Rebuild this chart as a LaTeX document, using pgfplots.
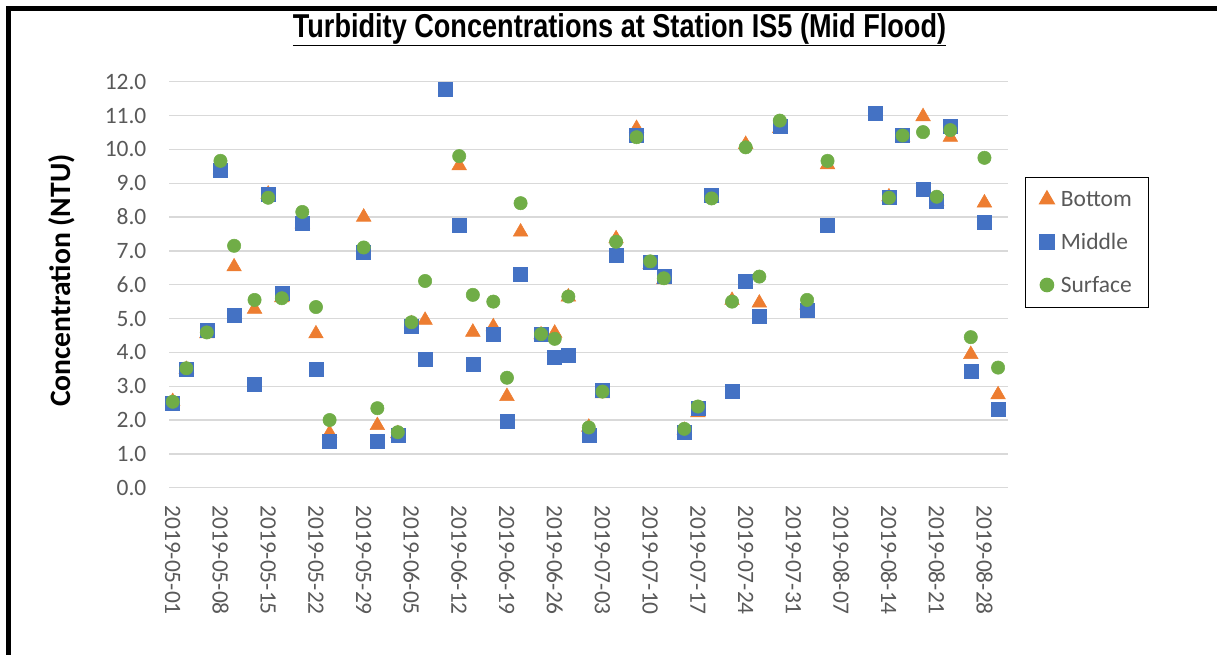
\documentclass[border=0pt]{standalone}
\usepackage{fontspec}
\setmainfont{Carlito}
\newfontfamily\titlefont[FakeStretch=0.82]{Liberation Sans}
\usepackage{pgfplots}
\usepackage{pgfplotstable}
\pgfplotsset{compat=1.18}
\definecolor{cOrange}{HTML}{ED7D31}
\definecolor{cBlue}{HTML}{4472C4}
\definecolor{cGreen}{HTML}{70AD47}
\definecolor{cGrid}{HTML}{D9D9D9}
\definecolor{cText}{HTML}{595959}

% x = days after 2019-05-01
\pgfplotstableread{
d v
0 2.55
2 3.50
5 4.55
7 9.40
9 6.53
12 5.28
14 8.68
16 5.62
19 7.80
21 4.55
23 1.61
28 8.00
30 1.84
33 1.60
35 4.85
37 4.95
42 9.52
44 4.60
47 4.76
49 2.70
51 7.56
54 4.52
56 4.57
58 5.64
61 1.79
63 2.78
65 7.36
68 10.62
70 6.60
72 6.15
75 1.70
77 2.22
79 8.56
82 5.54
84 10.15
86 5.46
89 10.62
93 5.40
96 9.55
105 8.60
107 10.35
110 10.97
112 8.47
114 10.36
117 3.94
119 8.42
121 2.75
}\bottomdata

\pgfplotstableread{
d v
0 2.49
2 3.50
5 4.64
7 9.39
9 5.10
12 3.06
14 8.67
16 5.75
19 7.81
21 3.50
23 1.36
28 6.96
30 1.36
33 1.54
35 4.78
37 3.80
40 11.78
42 7.77
44 3.66
47 4.54
49 1.95
51 6.31
54 4.54
56 3.87
58 3.90
61 1.54
63 2.89
65 6.86
68 10.43
70 6.65
72 6.24
75 1.64
77 2.35
79 8.63
82 2.84
84 6.11
86 5.06
89 10.67
93 5.25
96 7.77
103 11.07
105 8.57
107 10.41
110 8.82
112 8.48
114 10.67
117 3.45
119 7.86
121 2.32
}\middledata

\pgfplotstableread{
d v
0 2.54
2 3.53
5 4.59
7 9.66
9 7.15
12 5.55
14 8.57
16 5.60
19 8.15
21 5.34
23 2.00
28 7.10
30 2.35
33 1.64
35 4.89
37 6.11
42 9.80
44 5.70
47 5.50
49 3.25
51 8.41
54 4.54
56 4.40
58 5.65
61 1.78
63 2.84
65 7.27
68 10.36
70 6.69
72 6.19
75 1.74
77 2.40
79 8.55
82 5.50
84 10.06
86 6.24
89 10.85
93 5.55
96 9.66
105 8.57
107 10.41
110 10.51
112 8.60
114 10.57
117 4.45
119 9.75
121 3.55
}\surfacedata

\begin{document}
\begin{tikzpicture}[x=1pt,y=1pt]
\useasboundingbox (0,0) rectangle (912.75,-490.5);
\draw[line width=3.75pt, line join=miter] (6.375,-495) -- (6.375,-6.375) -- (920,-6.375);
\node[anchor=base, font=\titlefont\bfseries\fontsize{24.8pt}{28pt}\selectfont] at (464.6,-27.75) {\underline{Turbidity Concentrations at Station IS5 (Mid Flood)}};
\node[rotate=90, font=\bfseries\fontsize{22.2pt}{26pt}\selectfont] at (46.5,-210.5) {Concentration (NTU)};
\begin{axis}[
  at={(126.975pt,-61.275pt)}, anchor=north west,
  scale only axis, width=629.25pt, height=304.5pt,
  xmin=-0.5, xmax=122.5, ymin=0, ymax=12,
  axis line style={draw=none},
  major tick length=0pt,
  ytick={0,1,...,12},
  ymajorgrids, grid style={cGrid, line width=1pt},
  xtick={0,7,...,119},
  xticklabels={2019-05-01,2019-05-08,2019-05-15,2019-05-22,2019-05-29,2019-06-05,2019-06-12,2019-06-19,2019-06-26,2019-07-03,2019-07-10,2019-07-17,2019-07-24,2019-07-31,2019-08-07,2019-08-14,2019-08-21,2019-08-28},
  ticklabel style={font=\fontsize{17.6pt}{21pt}\selectfont, text=cText},
  xticklabel style={yshift=-13pt, rotate=-90, anchor=west, inner sep=0pt},
  yticklabel style={anchor=east, inner sep=0pt, xshift=-17pt, /pgf/number format/.cd, fixed, fixed zerofill, precision=1, assume math mode=true},
  legend style={at={(axis description cs:1.0199,0.7653)}, anchor=north west, draw=black, line width=1pt, font=\fontsize{17.6pt}{21pt}\selectfont, text=cText, inner xsep=10.5pt, inner ysep=8pt, row sep=14.6pt, /tikz/every odd column/.append style={column sep=3pt}},
  legend cell align=left,
  legend image code/.code={\draw[#1] plot coordinates {(0pt,0pt)};},
]
\addplot[only marks, mark=triangle*, mark size=6.3pt, color=cOrange] table[x=d,y=v] {\bottomdata};
\addlegendentry{Bottom}
\addplot[only marks, mark=square*, mark size=5.25pt, color=cBlue] table[x=d,y=v] {\middledata};
\addlegendentry{Middle}
\addplot[only marks, mark=*, mark size=5pt, color=cGreen] table[x=d,y=v] {\surfacedata};
\addlegendentry{Surface}
\end{axis}
\end{tikzpicture}
\end{document}
